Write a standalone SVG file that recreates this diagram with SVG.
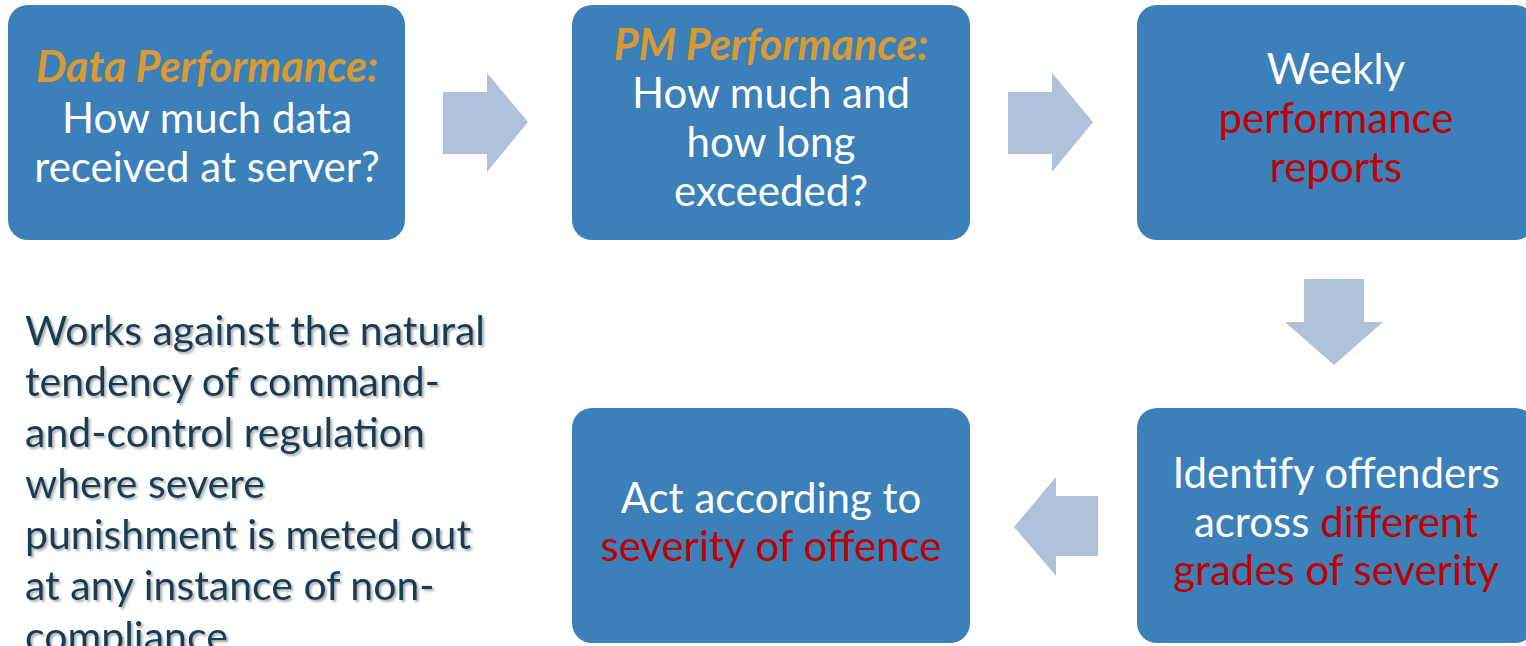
<svg xmlns="http://www.w3.org/2000/svg" width="1526" height="646" viewBox="0 0 1526 646">
<style>
.box{fill:#3b80b9;}
.arr{fill:#b0c2da;}
.t{font-family:Lato,"Open Sans","Liberation Sans",sans-serif;font-size:42px;fill:#ffffff;text-anchor:middle;}
.red{fill:#c00000;}
.hd{font-weight:bold;font-style:italic;fill:#d99a32;font-size:43px;}
.side{font-family:Lato,"Open Sans","Liberation Sans",sans-serif;font-size:41px;fill:#143c56;filter:url(#sh);}
</style>
<defs>
<filter id="sh" x="-5%" y="-5%" width="110%" height="120%">
<feDropShadow dx="2" dy="2" stdDeviation="1" flood-color="#8a8a8a" flood-opacity="0.7"/>
</filter>
</defs>
<rect width="1526" height="646" fill="#ffffff"/>
<g id="connectors">
<polygon class="arr" points="443,92 487,92 487,73 528,122 487,172 487,154 443,154"/>
<polygon class="arr" points="1008,92 1052,92 1052,73 1093,122 1052,172 1052,154 1008,154"/>
<polygon class="arr" points="1304,279 1364,279 1364,322 1383,322 1334,365 1285,322 1304,322"/>
<polygon class="arr" points="1098,496 1056,496 1056,477 1014,527 1056,576 1056,556 1098,556"/>
</g>
<g id="node-data">
<rect class="box" x="8" y="5" width="397" height="235" rx="20"/>
<text class="t" x="207" y="82"><tspan class="hd">Data Performance:</tspan></text>
<text class="t" x="207" y="133">How much data</text>
<text class="t" x="207" y="182">received at server?</text>
</g>
<g id="node-pm">
<rect class="box" x="572" y="5" width="398" height="235" rx="20"/>
<text class="t" x="771" y="60"><tspan class="hd">PM Performance:</tspan></text>
<text class="t" x="771" y="108">How much and</text>
<text class="t" x="771" y="157">how long</text>
<text class="t" x="771" y="206">exceeded?</text>
</g>
<g id="node-weekly">
<rect class="box" x="1137" y="5" width="398" height="235" rx="20"/>
<text class="t" x="1336" y="84">Weekly</text>
<text class="t red" x="1336" y="133">performance</text>
<text class="t red" x="1336" y="182">reports</text>
</g>
<g id="node-identify">
<rect class="box" x="1137" y="408" width="398" height="235" rx="20"/>
<text class="t" x="1336" y="488">Identify offenders</text>
<text class="t" x="1336" y="537">across <tspan class="red">different</tspan></text>
<text class="t red" x="1336" y="585">grades of severity</text>
</g>
<g id="node-act">
<rect class="box" x="572" y="408" width="398" height="235" rx="20"/>
<text class="t" x="771" y="513">Act according to</text>
<text class="t red" x="771" y="561">severity of offence</text>
</g>
<g id="note">
<text class="side" x="25" y="345">Works against the natural</text>
<text class="side" x="25" y="396">tendency of command-</text>
<text class="side" x="25" y="447">and-control regulation</text>
<text class="side" x="25" y="498">where severe</text>
<text class="side" x="25" y="549">punishment is meted out</text>
<text class="side" x="25" y="600">at any instance of non-</text>
<text class="side" x="25" y="651">compliance</text>
</g>
</svg>
